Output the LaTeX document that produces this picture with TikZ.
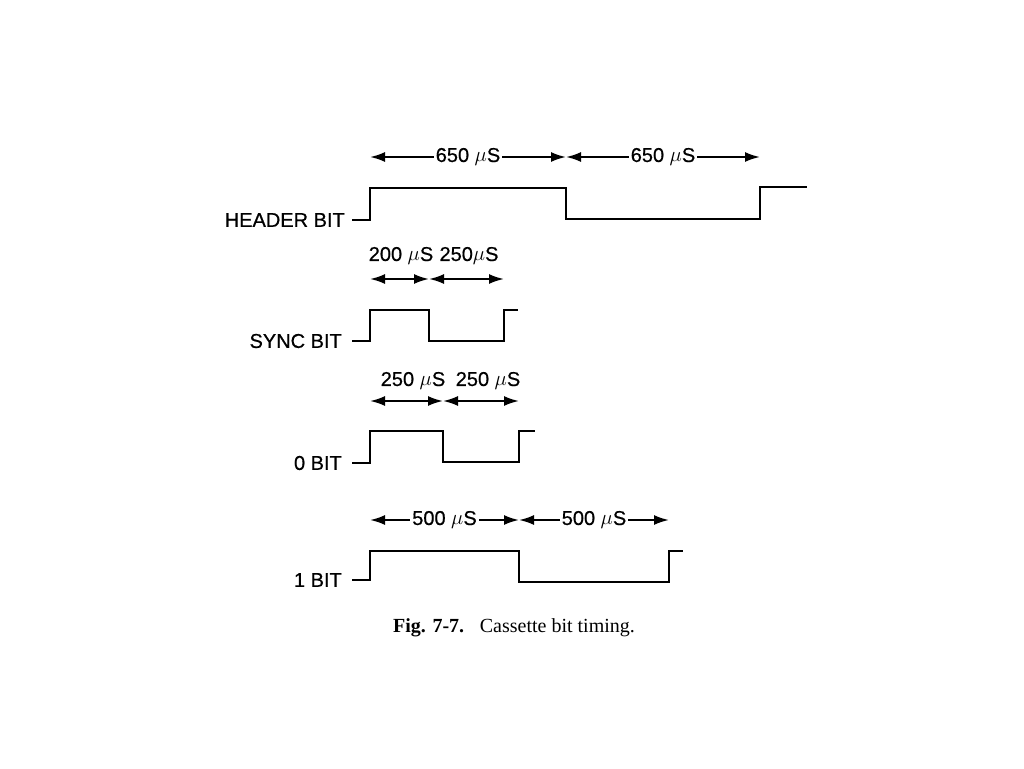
\documentclass[tikz,border=0pt]{standalone}
\usepackage{fontspec}
\setmainfont{Liberation Sans}
\newfontfamily\medfont{Liberation Sans}[FakeBold=0.6]
\newfontfamily\capfont{Liberation Serif}
\usetikzlibrary{arrows.meta}
\begin{document}
\begin{tikzpicture}[x=1pt,y=-1pt,
  wave/.style={line width=2.6pt, line join=miter},
  dim/.style={line width=2pt, {Latex[length=15pt,width=10pt]}-{Latex[length=15pt,width=10pt]}},
  lbl/.style={font=\medfont\fontsize{20}{24}\selectfont, inner sep=0pt, anchor=east},
  val/.style={font=\medfont\fontsize{20}{24}\selectfont, inner sep=2pt, fill=white},
  top/.style={font=\medfont\fontsize{20}{24}\selectfont, inner sep=0pt}]
\useasboundingbox (0,0) rectangle (1024,768);
% ---------- HEADER BIT ----------
\node[lbl] (hl) at (345,220) {HEADER BIT};
\coordinate (h0) at (352,220);
\coordinate (h1) at (370,220);
\coordinate (h2) at (370,188);
\coordinate (h3) at (566,188);
\coordinate (h4) at (566,219);
\coordinate (h5) at (760,219);
\coordinate (h6) at (760,187);
\coordinate (h7) at (807,187);
\draw[wave] (h0) -- (h1) -- (h2) -- (h3) -- (h4) -- (h5) -- (h6) -- (h7);
\coordinate (ha) at (370,157);
\coordinate (hb) at (566,157);
\coordinate (hc) at (760,157);
\draw[dim] (ha) -- (hb) node[midway,val] (hv1) {650 $\mu$S};
\draw[dim] (hb) -- (hc) node[midway,val] (hv2) {650 $\mu$S};
% ---------- SYNC BIT ----------
\node[lbl] (sl) at (342,341) {SYNC BIT};
\coordinate (s0) at (352,341);
\coordinate (s1) at (370,341);
\coordinate (s2) at (370,310);
\coordinate (s3) at (429,310);
\coordinate (s4) at (429,341);
\coordinate (s5) at (504,341);
\coordinate (s6) at (504,310);
\coordinate (s7) at (518,310);
\draw[wave] (s0) -- (s1) -- (s2) -- (s3) -- (s4) -- (s5) -- (s6) -- (s7);
\coordinate (sa) at (370,279);
\coordinate (sb) at (429,279);
\coordinate (sc) at (504,279);
\draw[dim] (sa) -- (sb);
\draw[dim] (sb) -- (sc);
\node[top] (sv1) at (401,256) {200 $\mu$S};
\node[top] (sv2) at (469,256) {250$\mu$S};
% ---------- 0 BIT ----------
\node[lbl] (zl) at (342,463) {0 BIT};
\coordinate (z0) at (352,463);
\coordinate (z1) at (370,463);
\coordinate (z2) at (370,431);
\coordinate (z3) at (443,431);
\coordinate (z4) at (443,462);
\coordinate (z5) at (519,462);
\coordinate (z6) at (519,431);
\coordinate (z7) at (535,431);
\draw[wave] (z0) -- (z1) -- (z2) -- (z3) -- (z4) -- (z5) -- (z6) -- (z7);
\coordinate (za) at (370,401);
\coordinate (zb) at (443,401);
\coordinate (zc) at (519,401);
\draw[dim] (za) -- (zb);
\draw[dim] (zb) -- (zc);
\node[top] (zv1) at (413,381) {250 $\mu$S};
\node[top] (zv2) at (488,381) {250 $\mu$S};
% ---------- 1 BIT ----------
\node[lbl] (ol) at (342,580) {1 BIT};
\coordinate (o0) at (352,580);
\coordinate (o1) at (370,580);
\coordinate (o2) at (370,551);
\coordinate (o3) at (519,551);
\coordinate (o4) at (519,582);
\coordinate (o5) at (669,582);
\coordinate (o6) at (669,551);
\coordinate (o7) at (683,551);
\draw[wave] (o0) -- (o1) -- (o2) -- (o3) -- (o4) -- (o5) -- (o6) -- (o7);
\coordinate (oa) at (370,520);
\coordinate (ob) at (519,520);
\coordinate (oc) at (669,520);
\draw[dim] (oa) -- (ob) node[midway,val] (ov1) {500 $\mu$S};
\draw[dim] (ob) -- (oc) node[midway,val] (ov2) {500 $\mu$S};
% ---------- caption ----------
\node[font=\capfont\fontsize{20}{24}\selectfont, inner sep=0pt] (cap) at (514,628)
  {\textbf{Fig. 7-7.}\hspace{0.45em} Cassette bit timing.};
\end{tikzpicture}
\end{document}
